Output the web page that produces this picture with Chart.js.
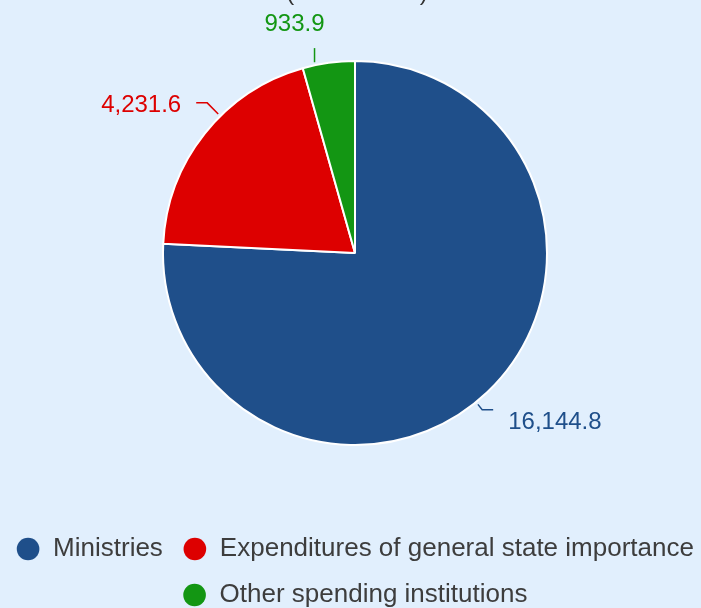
<!DOCTYPE html>
<html>
<head>
<meta charset="utf-8">
<script src="https://cdn.jsdelivr.net/npm/chart.js@4/dist/chart.umd.min.js"></script>
<style>
    html, body { margin: 0; padding: 0; width: 701px; height: 608px; overflow: hidden; background: #e1effd; }
    #wrap { position: absolute; left: -10px; top: -20px; width: 730px; height: 638px; }
</style>
</head>
<body>
<div id="wrap"><canvas id="budgetChart"></canvas></div>
<script>
const categories = ['Ministries', 'Expenditures of general state importance', 'Other spending institutions'];
const amounts = [16144.8, 4231.6, 933.9];
const sliceColors = ['#1f4f8a', '#dd0000', '#139613'];
const titleText = '(UAH million)';

const FONT = '"Liberation Sans", Arial, sans-serif';

// value labels with small connector lines, plus the (cropped) title
const sliceLabels = {
    id: 'sliceLabels',
    afterDatasetsDraw(chart) {
        const ctx = chart.ctx;
        const meta = chart.getDatasetMeta(0);
        ctx.save();
        ctx.font = '24px ' + FONT;
        ctx.lineWidth = 1.5;
        meta.data.forEach((arc, i) => {
            const p = arc.getProps(['x', 'y', 'startAngle', 'endAngle', 'outerRadius'], true);
            const mid = (p.startAngle + p.endAngle) / 2;
            const cos = Math.cos(mid), sin = Math.sin(mid);
            const r = p.outerRadius;
            const lx = p.x + (r + 30) * cos;
            const ly = p.y + (r + 30) * sin;
            const side = cos >= 0 ? 1 : -1;
            const text = amounts[i].toLocaleString('en-US', { minimumFractionDigits: 1 });
            ctx.strokeStyle = sliceColors[i];
            ctx.fillStyle = sliceColors[i];
            ctx.textAlign = side > 0 ? 'left' : 'right';
            ctx.textBaseline = 'middle';
            const ty = ly + (sin > 0 ? 9 : -9);
            ctx.beginPath();
            if (Math.abs(cos) < 0.3) {
                const cx = lx + side * 10;
                const dx = cx - p.x;
                const ay = p.y - Math.sqrt((r + 3) * (r + 3) - dx * dx) * (sin < 0 ? 1 : -1);
                ctx.moveTo(cx, ly + 15);
                ctx.lineTo(cx, ay);
            } else {
                const ex = lx - side * 26;
                const ey = sin > 0 ? ly - 4 : ly - 12;
                const ang = Math.atan2(ey - p.y, ex - p.x);
                ctx.moveTo(lx - side * 15, ey);
                ctx.lineTo(ex, ey);
                ctx.lineTo(p.x + (r + 3) * Math.cos(ang), p.y + (r + 3) * Math.sin(ang));
            }
            ctx.stroke();
            ctx.fillText(text, lx, ty);
        });
        ctx.fillStyle = '#333';
        ctx.textAlign = 'center';
        ctx.textBaseline = 'alphabetic';
        ctx.fillText(titleText, 367, 20);
        ctx.restore();
    }
};

new Chart(document.getElementById('budgetChart'), {
    type: 'pie',
    data: {
        labels: categories,
        datasets: [{
            data: amounts,
            backgroundColor: sliceColors,
            borderColor: '#ffffff',
            borderWidth: 2,
            radius: 192
        }]
    },
    options: {
        responsive: true,
        maintainAspectRatio: false,
        animation: false,
        layout: { padding: { top: 10 } },
        plugins: {
            tooltip: { enabled: false },
            legend: {
                position: 'bottom',
                labels: {
                    usePointStyle: true,
                    pointStyle: 'circle',
                    boxWidth: 24,
                    boxHeight: 16,
                    padding: 20,
                    color: '#3d3d3d',
                    font: { family: FONT, size: 26 },
                    generateLabels(chart) {
                        const items = Chart.controllers.doughnut.overrides.plugins.legend.labels.generateLabels(chart);
                        items.forEach(it => { it.lineWidth = 0; it.strokeStyle = it.fillStyle; });
                        return items;
                    }
                }
            }
        }
    },
    plugins: [sliceLabels]
});
</script>
</body>
</html>
